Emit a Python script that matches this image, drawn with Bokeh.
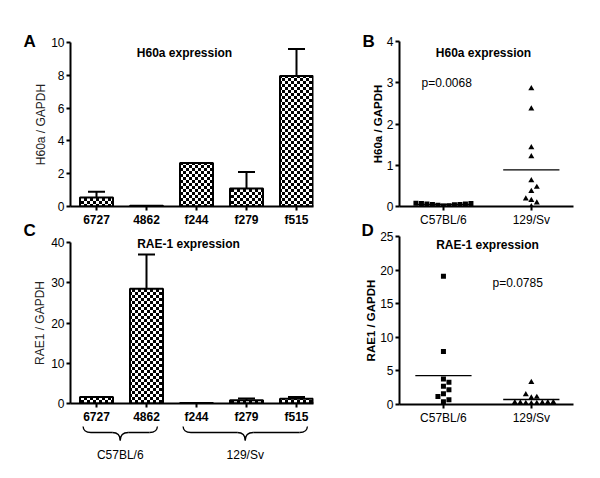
import zlib, struct, base64
import numpy as np
from bokeh.plotting import figure
from bokeh.models import (Range1d, FixedTicker, Whisker, TeeHead, GridBox,
                          ColumnDataSource, ImageURLTexture)
from bokeh.core.properties import value
from bokeh.embed import file_html
from bokeh.resources import INLINE

# ---------------- data ----------------
cell_lines = ["6727", "4862", "f244", "f279", "f515"]
line_strain = ["C57BL/6", "C57BL/6", "129/Sv", "129/Sv", "129/Sv"]
h60a_mean = [0.55, 0.05, 2.65, 1.1, 7.95]
h60a_err = [0.35, 0.0, 0.0, 1.0, 1.65]
rae1_mean = [1.6, 28.5, 0.15, 0.8, 1.2]
rae1_err = [0.0, 8.5, 0.0, 0.45, 0.4]

strains = ["C57BL/6", "129/Sv"]
h60a_b6 = [0.08, 0.07, 0.07, 0.06, 0.06, 0.05, 0.05, 0.04, 0.03, 0.02, 0.01]
h60a_129 = [2.86, 2.37, 1.43, 1.21, 0.63, 0.47, 0.37, 0.19, 0.15, 0.09, 0.0]
rae1_b6 = [19.1, 7.9, 3.8, 3.3, 2.7, 2.2, 1.6, 1.2, 0.7, 0.4]
rae1_129 = [3.3, 1.5, 1.1, 1.0, 0.35, 0.3, 0.3, 0.25, 0.25, 0.2, 0.2, 0.15]

panel_letters = ["A", "B", "C", "D"]
panel_titles = ["H60a expression", "H60a expression", "RAE-1 expression", "RAE-1 expression"]
p_values = ["p=0.0068", "p=0.0785"]

FONT = "Liberation Sans"


# ---------------- checker texture ----------------
def checker_uri(n=3):
    size = 2 * n

    def chunk(t, d):
        return struct.pack(">I", len(d)) + t + d + struct.pack(">I", zlib.crc32(t + d) & 0xffffffff)
    raw = b"".join(b"\x00" + bytes(0 if ((x // n + y // n) % 2 == 0) else 255 for x in range(size))
                   for y in range(size))
    png = (b"\x89PNG\r\n\x1a\n" + chunk(b"IHDR", struct.pack(">IIBBBBB", size, size, 8, 0, 0, 0, 0))
           + chunk(b"IDAT", zlib.compress(raw)) + chunk(b"IEND", b""))
    return "data:image/png;base64," + base64.b64encode(png).decode()


CHECK = checker_uri(3)


def make_fig(w, h, bl, br, bt, bb, xr, yr):
    p = figure(width=w, height=h, x_range=xr, y_range=yr, output_backend="svg",
               toolbar_location=None, min_border_left=bl, min_border_right=br,
               min_border_top=bt, min_border_bottom=bb, frame_align=False)
    p.outline_line_color = None
    p.grid.visible = False
    p.background_fill_color = "white"
    p.border_fill_color = "white"
    return p


def style_axes(p, lw=2, xbold=False):
    for ax in p.axis:
        ax.axis_line_width = lw
        ax.axis_line_color = "black"
        ax.major_tick_line_width = lw
        ax.major_tick_line_color = "black"
        ax.major_tick_out = 4
        ax.major_tick_in = 0
        ax.minor_tick_out = 0
        ax.minor_tick_in = 0
        ax.major_label_text_font = FONT
        ax.major_label_text_font_size = "12px"
        ax.major_label_text_color = "black"
        ax.major_label_standoff = 2
    p.xaxis.major_label_text_font_style = "bold" if xbold else "normal"


def bar_panel(w, h, bl, br, bt, bb, means, errs, ymax, ystep, ylabel, lab_standoff):
    xr = Range1d(-0.52, 4.34)
    p = make_fig(w, h, bl, br, bt, bb, xr, Range1d(0, ymax))
    xs = list(range(len(cell_lines)))
    p.vbar(x=xs, top=means, width=0.66, fill_color="white", line_color="black", line_width=2,
           hatch_pattern=value("chk"), hatch_extra={"chk": ImageURLTexture(url=CHECK)})
    keep = [i for i in xs if errs[i] > 0]
    src = ColumnDataSource(dict(x=[xs[i] for i in keep], lo=[means[i] for i in keep],
                                up=[means[i] + errs[i] for i in keep]))
    p.add_layout(Whisker(base="x", lower="lo", upper="up", source=src, line_width=2,
                         line_color="black", lower_head=None,
                         upper_head=TeeHead(size=17, line_width=2, line_color="black")))
    p.xaxis.ticker = FixedTicker(ticks=xs)
    p.xaxis.major_label_overrides = {i: n for i, n in enumerate(cell_lines)}
    p.yaxis.ticker = FixedTicker(ticks=list(np.arange(0, ymax + 0.1, ystep)))
    style_axes(p, 2, xbold=True)
    p.yaxis.axis_label = ylabel
    p.yaxis.axis_label_text_font = FONT
    p.yaxis.axis_label_text_font_size = "12px"
    p.yaxis.axis_label_text_font_style = "normal"
    p.yaxis.axis_label_text_color = "#222222"
    p.yaxis.axis_label_standoff = lab_standoff
    return p


def swarm(vals, ppy, ppx, d, step):
    order = np.argsort(vals, kind="stable")
    placed = []
    offs = [0.0] * len(vals)
    cands = [0.0]
    for j in range(1, 30):
        cands += [j * step, -j * step]
    for i in order:
        y = vals[i] * ppy
        for c in cands:
            if all((c - px) ** 2 + (y - py) ** 2 >= d * d for px, py in placed):
                break
        placed.append((c, y))
        offs[i] = c / ppx
    return offs


def dot_panel(w, h, bl, br, bt, bb, groups, ymax, ystep, ylabel, frame_h):
    xr = Range1d(-0.5, 1.48)
    p = make_fig(w, h, bl, br, bt, bb, xr, Range1d(0, ymax))
    ppx = 174 / 1.98
    ppy = frame_h / ymax
    for gi, (vals, marker, size) in enumerate(groups):
        offs = swarm(vals, ppy, ppx, d=size + 0.5, step=size + 0.5)
        p.scatter(x=[gi + o for o in offs], y=vals, marker=marker,
                  size=size if marker == "square" else size + 1,
                  fill_color="black", line_color="black", line_width=0)
        m = float(np.mean(vals))
        p.segment(x0=[gi - 0.32], x1=[gi + 0.32], y0=[m], y1=[m], line_color="black", line_width=1.3)
    p.xaxis.ticker = FixedTicker(ticks=[0, 1])
    p.xaxis.major_label_overrides = {i: n for i, n in enumerate(strains)}
    p.yaxis.ticker = FixedTicker(ticks=list(np.arange(0, ymax + 0.1, ystep)))
    style_axes(p, 2, xbold=False)
    p.yaxis.axis_label = ylabel
    p.yaxis.axis_label_text_font = FONT
    p.yaxis.axis_label_text_font_size = "11.5px"
    p.yaxis.axis_label_text_font_style = "bold"
    p.yaxis.axis_label_text_color = "black"
    p.yaxis.axis_label_standoff = 0
    return p


# Panel A  (page 0..322 x 0..229)
pA = bar_panel(322, 229, 70, 9, 42, 21, h60a_mean, h60a_err, 10, 2, "H60a / GAPDH", 0)
# Panel C  (page 0..322 x 229..426)
pC = bar_panel(322, 197, 70, 9, 13, 20, rae1_mean, rae1_err, 40, 10, "RAE1 / GAPDH", 1)

# braces under panel C (page 0..322 x 426..478), y in page pixels
pE = make_fig(322, 52, 70, 9, 0, 0, Range1d(-0.52, 4.34), Range1d(478, 426))
pE.axis.visible = False
r = 0.16
ytop, ymid, ytip = 425, 432, 440
for g in strains:
    idx = [i for i, s in enumerate(line_strain) if s == g]
    xs_, xe_ = min(idx) - 0.27, max(idx) + 0.22
    xm = (xs_ + xe_) / 2
    pE.quadratic(x0=[xs_, xm - r, xm, xe_ - r], y0=[ytop, ymid, ytip, ymid],
                 x1=[xs_ + r, xm, xm + r, xe_], y1=[ymid, ytip, ymid, ytop],
                 cx=[xs_, xm, xm, xe_], cy=[ymid, ymid, ymid, ymid], line_color="black", line_width=1.3)
    pE.segment(x0=[xs_ + r, xm + r], x1=[xm - r, xe_ - r], y0=[ymid, ymid], y1=[ymid, ymid],
               line_color="black", line_width=1.3)
    pE.text(x=[xm], y=[454], text=[g], text_font=value(FONT), text_font_size="12px",
            text_align="center", text_baseline="middle", text_color="black")

# Panel B (page 322..600 x 0..229)
pB = dot_panel(278, 229, 77, 27, 41, 21, [(h60a_b6, "square", 5), (h60a_129, "triangle", 5)],
               4, 1, "H60a / GAPDH", 167)
# Panel D (page 322..600 x 229..478)
pD = dot_panel(278, 249, 77, 27, 7, 74, [(rae1_b6, "square", 5), (rae1_129, "triangle", 5)],
               25, 5, "RAE1 / GAPDH", 168)

# transparent overlay in page pixels for panel letters, panel titles and p-values
pL = figure(width=600, height=478, x_range=Range1d(0, 600), y_range=Range1d(478, 0),
            output_backend="svg", toolbar_location=None, min_border=0, frame_align=False)
pL.axis.visible = False
pL.grid.visible = False
pL.outline_line_color = None
pL.background_fill_color = None
pL.border_fill_color = None
pL.text(x=[23, 362, 23, 361], y=[41, 41, 230, 230], text=panel_letters, text_font=value(FONT),
        text_font_size="17px", text_font_style="bold", text_align="left",
        text_baseline="alphabetic", text_color="black")
pL.text(x=[184, 483, 188, 487], y=[52, 52, 243, 244], text=panel_titles, text_font=value(FONT),
        text_font_size="12px", text_font_style="bold", text_align="center",
        text_baseline="middle", text_color="black")
pL.text(x=[421, 492], y=[82, 282], text=p_values, text_font=value(FONT),
        text_font_size="12px", text_align="left", text_baseline="middle", text_color="black")

layout = GridBox(children=[(pA, 0, 0), (pC, 1, 0), (pE, 2, 0), (pB, 0, 1), (pD, 1, 1, 2, 1),
                           (pL, 0, 0, 3, 2)], spacing=0)

with open("out.html", "w") as f:
    f.write(file_html(layout, INLINE))
